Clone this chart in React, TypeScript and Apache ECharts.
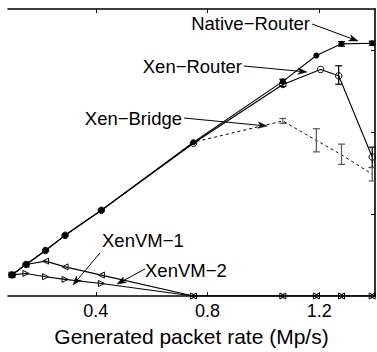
import React, { useEffect, useRef } from "react";
import * as echarts from "echarts";

const nativeX = [0.1, 0.15, 0.22, 0.29, 0.42, 0.75, 1.07, 1.19, 1.28, 1.39];
const nativeY = [0.103, 0.154, 0.222, 0.296, 0.418, 0.75, 1.047, 1.173, 1.23, 1.233];

const routerX = [0.1, 0.15, 0.22, 0.29, 0.42, 0.75, 1.07, 1.205, 1.27, 1.39];
const routerY = [0.103, 0.154, 0.222, 0.296, 0.418, 0.745, 1.032, 1.105, 1.074, 0.678];

const bridgeX = [0.1, 0.15, 0.22, 0.29, 0.42, 0.75, 1.07, 1.19, 1.28, 1.39];
const bridgeY = [0.103, 0.154, 0.222, 0.296, 0.418, 0.75, 0.854, 0.759, 0.689, 0.594];

const vm1X = [0.1, 0.15, 0.22, 0.29, 0.42, 0.75, 1.07, 1.19, 1.28, 1.39];
const vm1Y = [0.103, 0.11, 0.094, 0.081, 0.061, 0, 0, 0, 0, 0];

const vm2X = [0.1, 0.15, 0.22, 0.29, 0.42, 0.75, 1.07, 1.19, 1.28, 1.39];
const vm2Y = [0.103, 0.154, 0.17, 0.142, 0.102, 0, 0, 0, 0, 0];

// [x, low, high]
const nativeErr = [
  [1.07, 1.037, 1.057],
  [1.28, 1.219, 1.241],
  [1.39, 1.223, 1.243],
];
const routerErr = [
  [1.07, 1.022, 1.042],
  [1.27, 1.033, 1.123],
  [1.39, 0.627, 0.726],
];
const bridgeErr = [
  [1.07, 0.842, 0.866],
  [1.19, 0.703, 0.816],
  [1.28, 0.642, 0.741],
  [1.39, 0.561, 0.627],
];

const xTicks = [0.4, 0.8, 1.2];
const yTicks = [0.4, 0.8, 1.2];

const seriesNames = ["Native−Router", "Xen−Router", "Xen−Bridge", "XenVM−1", "XenVM−2"];
const xLabel = "Generated packet rate (Mp/s)";

const FONT = "'Liberation Sans', Arial, Helvetica, sans-serif";

const zip = (xs: number[], ys: number[]) => xs.map((x, i) => [x, ys[i]]);

function arrow(x1: number, y1: number, x2: number, y2: number) {
  const ang = Math.atan2(y2 - y1, x2 - x1);
  const L = 9;
  const W = 3.2;
  const N = 6.5;
  const c = Math.cos(ang);
  const s = Math.sin(ang);
  const bx = x2 - L * c;
  const by = y2 - L * s;
  const nx = x2 - N * c;
  const ny = y2 - N * s;
  return [
    {
      type: "line",
      shape: { x1, y1, x2: nx, y2: ny },
      style: { stroke: "#000", lineWidth: 1 },
      silent: true,
    },
    {
      type: "polygon",
      shape: {
        points: [
          [x2, y2],
          [bx - W * s, by + W * c],
          [nx, ny],
          [bx + W * s, by - W * c],
        ],
      },
      style: { fill: "#000", stroke: "#000", lineWidth: 0.5 },
      silent: true,
    },
  ];
}

function label(text: string, x: number, y: number, align: string) {
  return {
    type: "text",
    x,
    y,
    style: {
      text,
      fontSize: 18.5,
      fontFamily: FONT,
      fill: "#000",
      align,
      verticalAlign: "middle",
    },
    silent: true,
  };
}

function errSeries(data: number[][], color: string) {
  return {
    type: "custom",
    data,
    encode: { x: 0, y: [1, 2] },
    z: 5,
    renderItem: (_p: any, api: any) => {
      const x = api.value(0);
      const lo = api.coord([x, api.value(1)]);
      const hi = api.coord([x, api.value(2)]);
      const w = 3.5;
      const st = { stroke: color, lineWidth: 1.2 };
      return {
        type: "group",
        children: [
          { type: "line", shape: { x1: lo[0], y1: lo[1], x2: hi[0], y2: hi[1] }, style: st },
          { type: "line", shape: { x1: lo[0] - w, y1: lo[1], x2: lo[0] + w, y2: lo[1] }, style: st },
          { type: "line", shape: { x1: hi[0] - w, y1: hi[1], x2: hi[0] + w, y2: hi[1] }, style: st },
        ],
      };
    },
  };
}

export default function App() {
  const ref = useRef<HTMLDivElement>(null);
  useEffect(() => {
    document.body.style.margin = "0";
    const chart = echarts.init(ref.current!, null, { renderer: "svg" });
    const axisLine = { show: true, lineStyle: { color: "#000", width: 1.6 } };
    const option: any = {
      animation: false,
      backgroundColor: "#fff",
      grid: { left: 8, right: 2, top: 9, bottom: 46 },
      xAxis: [
        {
          type: "value",
          position: "bottom",
          min: 0.0857,
          max: 1.4,
          axisLine,
          splitLine: { show: false },
          axisTick: {
            show: true,
            inside: true,
            length: 4,
            customValues: xTicks,
            lineStyle: { color: "#000", width: 1 },
          },
          axisLabel: {
            show: true,
            customValues: xTicks,
            formatter: (v: number) => v.toFixed(1),
            fontSize: 18,
            fontFamily: FONT,
            color: "#000",
            margin: 6,
          },
          name: xLabel,
          nameLocation: "middle",
          nameGap: 30,
          nameTextStyle: { fontSize: 21, fontFamily: FONT, color: "#000" },
        },
        {
          type: "value",
          position: "top",
          min: 0.0857,
          max: 1.4,
          axisLine,
          splitLine: { show: false },
          axisTick: {
            show: true,
            inside: true,
            length: 4,
            customValues: xTicks,
            lineStyle: { color: "#000", width: 1 },
          },
          axisLabel: { show: false },
        },
      ],
      yAxis: [
        {
          type: "value",
          position: "right",
          min: 0,
          max: 1.4,
          axisLine,
          splitLine: { show: false },
          axisTick: {
            show: true,
            inside: true,
            length: 4,
            customValues: yTicks,
            lineStyle: { color: "#000", width: 1 },
          },
          axisLabel: { show: false },
        },
      ],
      series: [
        {
          name: seriesNames[2],
          type: "line",
          data: zip(bridgeX, bridgeY),
          showSymbol: false,
          symbol: "none",
          lineStyle: { color: "#000", width: 1, type: [3, 3] },
          z: 2,
        },
        {
          name: seriesNames[3],
          type: "line",
          data: zip(vm1X, vm1Y),
          symbol: "path://M0,0 L10,5 L0,10 Z",
          symbolSize: [6, 6],
          itemStyle: { color: "transparent", borderColor: "#000", borderWidth: 1 },
          lineStyle: { color: "#000", width: 1.1 },
          z: 3,
        },
        {
          name: seriesNames[4],
          type: "line",
          data: zip(vm2X, vm2Y),
          symbol: "path://M10,0 L0,5 L10,10 Z",
          symbolSize: [6, 6],
          itemStyle: { color: "transparent", borderColor: "#000", borderWidth: 1 },
          lineStyle: { color: "#000", width: 1.1 },
          z: 3,
        },
        {
          name: seriesNames[1],
          type: "line",
          data: zip(routerX, routerY),
          symbol: "circle",
          symbolSize: 6.5,
          itemStyle: { color: "transparent", borderColor: "#000", borderWidth: 1 },
          lineStyle: { color: "#000", width: 1.1 },
          z: 4,
        },
        {
          name: seriesNames[0],
          type: "line",
          data: zip(nativeX, nativeY),
          symbol: "circle",
          symbolSize: 6,
          itemStyle: { color: "#000" },
          lineStyle: { color: "#000", width: 1.1 },
          z: 4,
        },
        errSeries(nativeErr, "#000"),
        errSeries(routerErr, "#000"),
        errSeries(bridgeErr, "#555"),
      ],
      graphic: [
        label(seriesNames[0], 310, 23.5, "right"),
        ...arrow(312, 24, 358, 41),
        label(seriesNames[1], 242, 66, "right"),
        ...arrow(244, 66, 307, 72),
        label(seriesNames[2], 182, 118.5, "right"),
        ...arrow(184, 118, 267, 126),
        label(seriesNames[3], 102, 240, "left"),
        ...arrow(100, 253, 73, 285),
        label(seriesNames[4], 145, 270, "left"),
        ...arrow(145, 269, 117, 284),
      ],
    };
    chart.setOption(option);
    return () => chart.dispose();
  }, []);
  return (
    <div
      ref={ref}
      style={{ position: "fixed", left: 0, top: 0, width: 377, height: 352 }}
    />
  );
}
